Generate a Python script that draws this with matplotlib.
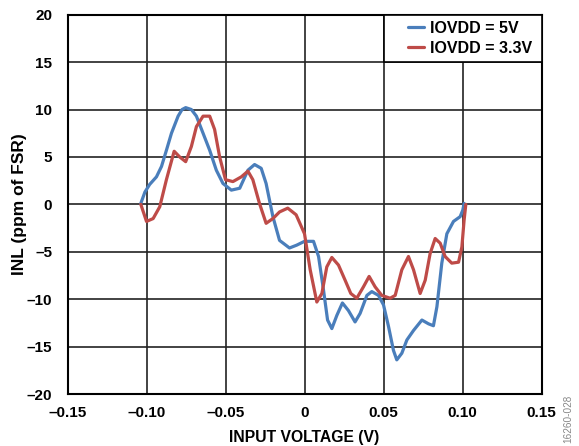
import matplotlib
matplotlib.use("Agg")
import matplotlib.pyplot as plt
from matplotlib.patches import Rectangle

plt.rcParams['font.family'] = ['Liberation Sans', 'DejaVu Sans']
plt.rcParams['font.weight'] = 'bold'

blue_x = [-0.1036, -0.101, -0.098, -0.0937, -0.0905, -0.0874, -0.0842, -0.080, -0.0775, -0.0752,
          -0.0716, -0.0684, -0.0642, -0.060, -0.0558, -0.0516, -0.0463, -0.041, -0.0358,
          -0.0316, -0.0274, -0.0243, -0.020, -0.0158, -0.0095, -0.0049, 0.0, 0.0057,
          0.0089, 0.012, 0.0146, 0.0173, 0.0205, 0.024, 0.0278, 0.032, 0.0352, 0.0395,
          0.0426, 0.0468, 0.050, 0.0532, 0.0563, 0.0584, 0.0616, 0.0648, 0.069, 0.0743,
          0.0785, 0.0816, 0.0838, 0.0869, 0.0901, 0.0943, 0.0985, 0.1002, 0.101]
blue_y = [0.1, 1.3, 2.1, 2.9, 4.0, 5.7, 7.5, 9.3, 10.0, 10.2,
          10.0, 9.3, 7.5, 5.7, 3.6, 2.2, 1.5, 1.7, 3.6,
          4.2, 3.8, 2.2, -1.3, -3.8, -4.6, -4.3, -3.9, -3.9,
          -5.5, -9.0, -12.2, -13.1, -11.7, -10.4, -11.2, -12.4, -11.5, -9.6,
          -9.2, -9.6, -10.6, -12.9, -15.4, -16.4, -15.7, -14.3, -13.3, -12.2,
          -12.6, -12.8, -10.8, -6.2, -3.1, -1.8, -1.3, -0.6, 0.1]

red_x = [-0.1036, -0.100, -0.0958, -0.0916, -0.0874, -0.0825, -0.079, -0.0752, -0.0716,
         -0.0684, -0.0642, -0.060, -0.0569, -0.0537, -0.050, -0.0453, -0.040, -0.0358,
         -0.0327, -0.0285, -0.0243, -0.020, -0.0158, -0.0106, -0.0053, 0.0, 0.0036,
         0.0078, 0.011, 0.0141, 0.0173, 0.0215, 0.0257, 0.0293, 0.0331, 0.0373, 0.0409,
         0.0447, 0.0489, 0.0542, 0.0574, 0.0616, 0.0658, 0.069, 0.0732, 0.0764, 0.0795,
         0.0827, 0.0859, 0.089, 0.0932, 0.0975, 0.0996, 0.101, 0.1021]
red_y = [0.0, -1.8, -1.5, -0.25, 2.6, 5.6, 5.0, 4.5, 6.1,
         8.2, 9.3, 9.3, 7.9, 5.0, 2.6, 2.4, 2.9, 3.5,
         2.6, 0.1, -2.0, -1.5, -0.8, -0.4, -1.1, -3.1, -6.9,
         -10.3, -9.4, -6.6, -5.6, -6.4, -8.0, -9.4, -9.9, -8.7, -7.6,
         -8.7, -9.6, -9.9, -9.6, -6.9, -5.5, -6.9, -9.4, -8.0, -5.2,
         -3.6, -4.1, -5.5, -6.2, -6.1, -4.5, -1.7, 0.0]

series_labels = ['IOVDD = 5V', 'IOVDD = 3.3V']
x_ticks = [-0.15, -0.10, -0.05, 0, 0.05, 0.10, 0.15]
x_tick_labels = ['\u20130.15', '\u20130.10', '\u20130.05', '0', '0.05', '0.10', '0.15']
y_ticks = [-20, -15, -10, -5, 0, 5, 10, 15, 20]
y_tick_labels = ['\u201320', '\u201315', '\u201310', '\u20135', '0', '5', '10', '15', '20']

fig = plt.figure(figsize=(5.79, 4.46), dpi=100)
ax = fig.add_axes([67.5/579, 1 - 394/446, (541.5 - 67.5)/579, (394 - 14.7)/446])

ax.set_xlim(-0.15, 0.15)
ax.set_ylim(-20, 20)
ax.set_xticks(x_ticks)
ax.set_xticklabels(x_tick_labels)
ax.set_yticks(y_ticks)
ax.set_yticklabels(y_tick_labels)
ax.tick_params(axis='both', length=0, labelsize=11)
ax.tick_params(axis='x', pad=8.5)
ax.tick_params(axis='y', pad=11)
ax.grid(True, color='#222222', linewidth=1.2, zorder=1)
ax.set_axisbelow(True)
for s in ax.spines.values():
    s.set_linewidth(1.5)
    s.set_color('black')

l1, = ax.plot(blue_x, blue_y, color='#4A7EBB', linewidth=2.3, solid_joinstyle='round',
              solid_capstyle='round', zorder=3, label=series_labels[0])
l2, = ax.plot(red_x, red_y, color='#BE4B48', linewidth=2.3, solid_joinstyle='round',
              solid_capstyle='round', zorder=3, label=series_labels[1])

rect = Rectangle((0.05, 15), 0.10, 5, facecolor='white', edgecolor='black',
                 linewidth=1.2, zorder=4)
ax.add_patch(rect)

leg = ax.legend(handles=[l1, l2], loc='center left',
                bbox_to_anchor=((408 - 67.5)/474, (394 - 38.3)/379.3),
                frameon=False, fontsize=11.5, handlelength=1.0, handletextpad=0.35,
                borderpad=0, borderaxespad=0, labelspacing=0.32)
leg.set_zorder(5)

ax.set_xlabel('INPUT VOLTAGE (V)', fontsize=11.3, fontweight='bold', labelpad=7)
ax.set_ylabel('INL (ppm of FSR)', fontsize=12.5, fontweight='bold', labelpad=0)

fig.text(568/579, 1 - 395/446, '16260-028', rotation=90, fontsize=7.2, color='#888888',
         ha='center', va='top', fontweight='normal')

fig.savefig('out.png', dpi=100)
